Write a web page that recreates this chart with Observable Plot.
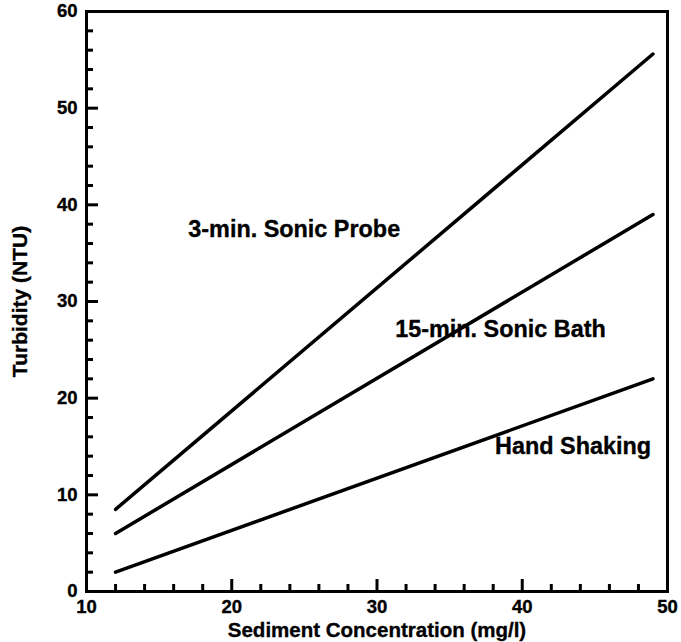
<!DOCTYPE html>
<html>
<head>
<meta charset="utf-8">
<script src="https://cdn.jsdelivr.net/npm/d3@7"></script>
<script src="https://cdn.jsdelivr.net/npm/@observablehq/plot@0.6"></script>
<style>
  html, body { margin: 0; padding: 0; background: #fff; }
  svg { display: block; }
  svg text { stroke: #000; stroke-width: 0.35px; }
</style>
</head>
<body>
<div id="chart"></div>
<script>
// Series (straight fitted lines)
const series = ["3-min. Sonic Probe", "15-min. Sonic Bath", "Hand Shaking"];
const xStart = [12, 12, 12];
const xEnd = [49, 49, 49];
const yStart = [8.5, 6, 2];
const yEnd = [55.6, 39, 22];

// Label anchors (data coordinates)
const labelX = [24.3, 38.5, 43.5];
const labelY = [37.5, 27.1, 15.0];

// Axis ticks
const xMajor = [10, 20, 30, 40, 50];
const xMinor = [12, 14, 16, 18, 22, 24, 26, 28, 32, 34, 36, 38, 42, 44, 46, 48];
const yMajor = [0, 10, 20, 30, 40, 50, 60];
const yMinor = [2, 4, 6, 8, 12, 14, 16, 18, 22, 24, 26, 28, 32, 34, 36, 38, 42, 44, 46, 48, 52, 54, 56, 58];

const xTitle = "Sediment Concentration (mg/l)";
const yTitle = "Turbidity (NTU)";

const lineData = [];
series.forEach((s, i) => {
  lineData.push({series: s, x: xStart[i], y: yStart[i]});
  lineData.push({series: s, x: xEnd[i], y: yEnd[i]});
});
const labelData = series.map((s, i) => ({text: s, x: labelX[i], y: labelY[i]}));

const chart = Plot.plot({
  width: 681,
  height: 642,
  marginLeft: 86,
  marginRight: 14,
  marginTop: 11,
  marginBottom: 51,
  style: {fontFamily: "'Liberation Sans', Arial, sans-serif", fontWeight: "bold", fontSize: "18.5px", color: "#000", background: "#fff"},
  x: {domain: [10, 50]},
  y: {domain: [0, 60]},
  marks: [
    // inward major/minor ticks
    Plot.axisX(xMajor, {tickSize: -12, text: null, strokeWidth: 3, label: null}),
    Plot.axisX(xMinor, {tickSize: -7, text: null, strokeWidth: 3, label: null}),
    Plot.axisY(yMajor, {tickSize: -12, text: null, strokeWidth: 3, label: null}),
    Plot.axisY(yMinor, {tickSize: -7, text: null, strokeWidth: 3, label: null}),
    // tick labels
    Plot.axisX(xMajor, {tickSize: 0, tickPadding: 8, label: null, fontSize: 18.5, fontWeight: "bold"}),
    Plot.axisY(yMajor, {tickSize: 0, tickPadding: 9, label: null, fontSize: 18.5, fontWeight: "bold"}),
    Plot.frame({strokeWidth: 3}),
    Plot.line(lineData, {x: "x", y: "y", z: "series", stroke: "#000", strokeWidth: 3.5}),
    Plot.text(labelData, {x: "x", y: "y", text: "text", fontSize: 23.4, fontWeight: "bold", fill: "#000"}),
    Plot.text([xTitle], {text: d => d, frameAnchor: "bottom", lineAnchor: "middle", textAnchor: "middle", dy: 39.4, fontSize: 20.5, fontWeight: "bold"}),
    Plot.text([yTitle], {text: d => d, frameAnchor: "left", lineAnchor: "middle", textAnchor: "middle", dx: -66, rotate: -90, fontSize: 21, fontWeight: "bold"})
  ]
});
document.getElementById("chart").appendChild(chart);
</script>
</body>
</html>
